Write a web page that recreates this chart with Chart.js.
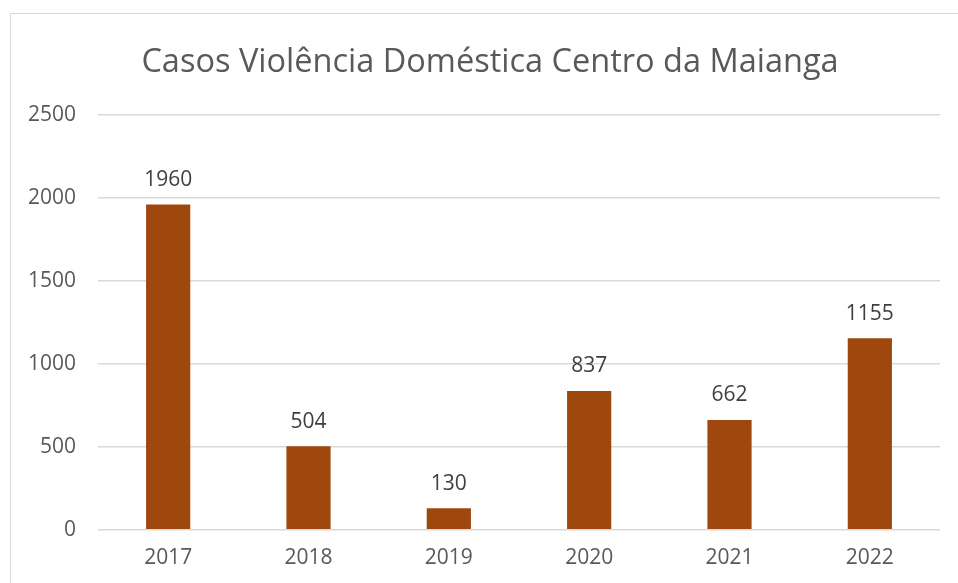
<!DOCTYPE html>
<html>
<head>
<meta charset="utf-8">
<script src="https://cdn.jsdelivr.net/npm/chart.js@4.4.1/dist/chart.umd.min.js"></script>
<style>
  html, body { margin: 0; padding: 0; background: #fff; overflow: hidden; }
  #wrap { position: relative; width: 958px; height: 583px; }
  #frame { position: absolute; left: 10px; top: 13px; width: 1000px; height: 1000px; border: 1px solid #d9d9d9; }
  canvas { position: absolute; left: 0; top: 0; }
</style>
</head>
<body>
<div id="wrap">
  <div id="frame"></div>
  <canvas id="chart" width="958" height="583"></canvas>
</div>
<script>
const years = ['2017', '2018', '2019', '2020', '2021', '2022'];
const casos = [1960, 504, 130, 837, 662, 1155];
const yTicks = [0, 500, 1000, 1500, 2000, 2500];

// value labels above the bars
const barLabels = {
    id: 'barLabels',
    afterDatasetsDraw(chart) {
        const ctx = chart.ctx;
        const meta = chart.getDatasetMeta(0);
        ctx.save();
        ctx.font = '21px "Open Sans"';
        ctx.fillStyle = '#404040';
        ctx.textAlign = 'center';
        ctx.textBaseline = 'bottom';
        meta.data.forEach(function(bar, i) {
            ctx.fillText(casos[i], bar.x, bar.y - 14);
        });
        ctx.restore();
    }
};

// centre the title on the outer frame, not on the padded box
const titleShift = {
    id: 'titleShift',
    afterLayout(chart) {
        if (chart.titleBlock) {
            chart.titleBlock.left = 20;
            chart.titleBlock.right = 960;
        }
    }
};

new Chart(document.getElementById('chart'), {
    type: 'bar',
    data: {
        labels: years,
        datasets: [{
            data: casos,
            backgroundColor: '#9E480E',
            barPercentage: 0.315,
            categoryPercentage: 1
        }]
    },
    options: {
        responsive: false,
        animation: false,
        layout: { padding: { top: 43, right: 18, bottom: 4, left: 0 } },
        plugins: {
            legend: { display: false },
            tooltip: { enabled: false },
            title: {
                display: true,
                text: 'Casos Violência Doméstica Centro da Maianga',
                color: '#595959',
                font: { family: 'Open Sans', size: 32.5, weight: 'normal' },
                padding: { top: 0, bottom: 33 }
            }
        },
        scales: {
            x: {
                grid: { display: false },
                border: { display: false },
                ticks: { color: '#595959', font: { family: 'Open Sans', size: 21 }, padding: 8 }
            },
            y: {
                min: 0,
                max: 2500,
                afterBuildTicks(scale) { scale.ticks = yTicks.map(v => ({ value: v })); },
                afterFit(scale) { scale.width = 98; },
                grid: { color: '#d9d9d9', lineWidth: 1.5, drawTicks: false },
                border: { display: false },
                ticks: {
                    color: '#595959',
                    font: { family: 'Open Sans', size: 21 },
                    padding: 22,
                    callback: (v) => String(v)
                }
            }
        }
    },
    plugins: [barLabels, titleShift]
});
</script>
</body>
</html>
